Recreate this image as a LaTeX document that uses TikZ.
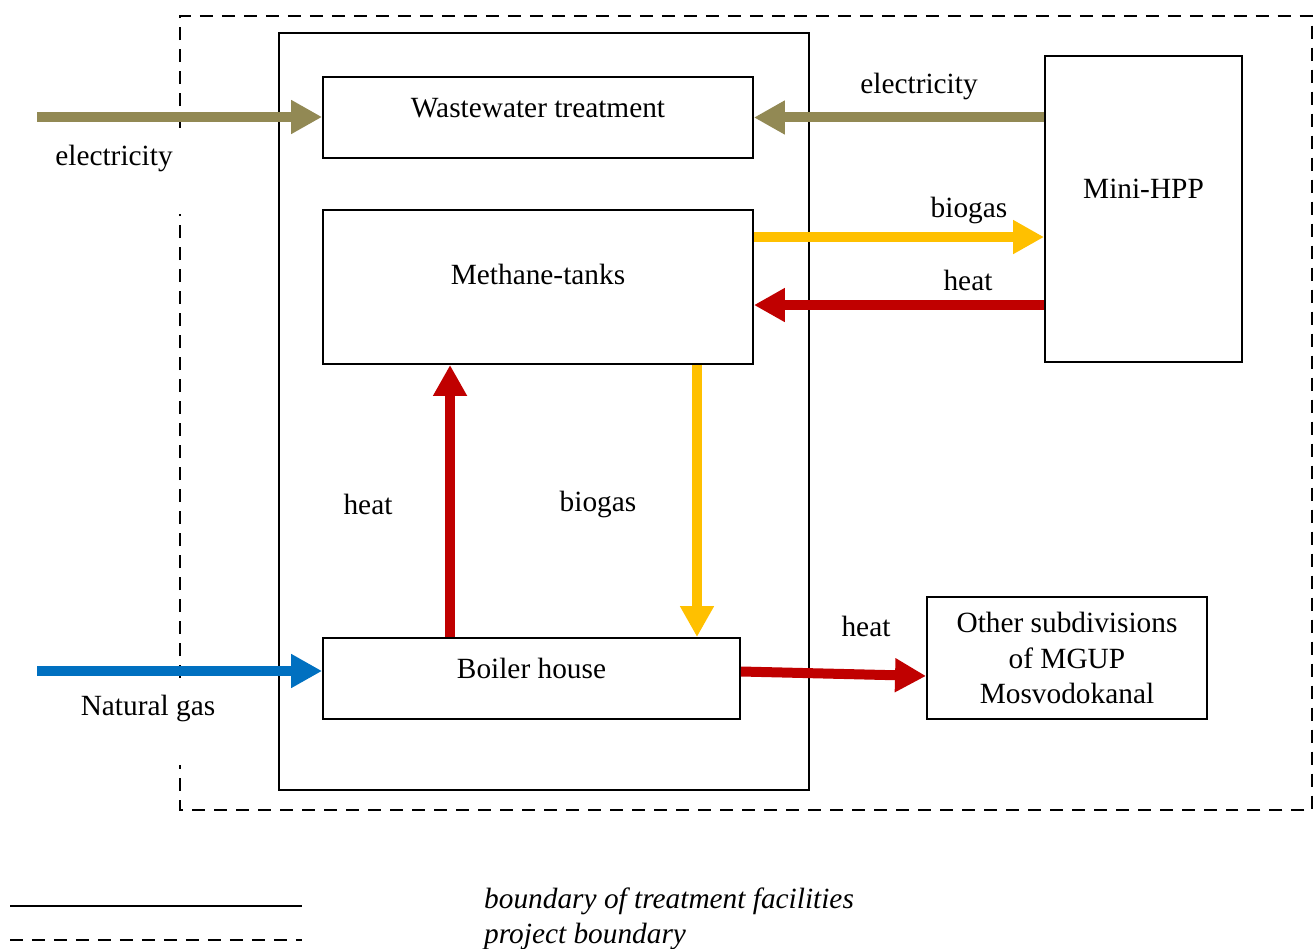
\documentclass[tikz,border=0pt]{standalone}
\usepackage{fontspec}
\setmainfont{Liberation Serif}
\usetikzlibrary{arrows.meta}

\definecolor{elec}{RGB}{146,137,84}
\definecolor{gas}{RGB}{255,192,0}
\definecolor{heatc}{RGB}{192,0,0}
\definecolor{natgas}{RGB}{0,112,192}

\begin{document}
\begin{tikzpicture}[x=0.02cm, y=-0.02cm,
  font=\fontsize{16.7}{20}\selectfont,
  box/.style={draw, line width=1.1pt, inner sep=0pt, align=center},
  flow/.style={line width=0.2cm, -{Triangle[length=0.62cm, width=0.64cm]}},
  bound/.style={line width=1.1pt, dash pattern=on 0.26cm off 0.18cm}
]
  \useasboundingbox (0,0) rectangle (1316,949);

  % 境界
  \draw[bound] (180,128) -- (180,16) -- (1312,16) -- (1312,810) -- (180,810) -- (180,765);
  \draw[bound] (180,678) -- (180,214);
  \draw[line width=1.1pt] (279,33) rectangle (809,790);

  % 設備
  \node[box, minimum width=8.6cm, minimum height=1.62cm, text depth=0.4cm] (WT) at (538,117.5) {Wastewater treatment};
  \node[box, minimum width=8.6cm, minimum height=3.08cm, text depth=0.52cm] (MT) at (538,287) {Methane-tanks};
  \node[box, minimum width=3.94cm, minimum height=6.12cm, text depth=0.8cm] (HPP) at (1143.5,209) {Mini-HPP};
  \node[box, minimum width=8.34cm, minimum height=1.62cm, text depth=0.4cm] (BH) at (531.5,678.5) {Boiler house};
  \node[box, minimum width=5.6cm, minimum height=2.44cm] (OS) at (1067,658) {Other subdivisions\\of MGUP\\Mosvodokanal};

  % 端点
  \coordinate (elin) at (37,117);
  \coordinate (ngin) at (37,671);
  \coordinate (bg1) at ([yshift=-0.56cm]MT.north east);
  \coordinate (ht1) at ([yshift=-1.92cm]MT.north east);
  \coordinate (ht2) at ([xshift=2.56cm]BH.north west);
  \coordinate (bg2) at ([xshift=7.5cm]MT.south west);

  % 流れ
  \draw[flow, elec] (elin) -- (elin -| WT.west);
  \draw[flow, elec] (HPP.west |- WT.east) -- (WT.east);
  \draw[flow, gas] (bg1) -- (bg1 -| HPP.west);
  \draw[flow, heatc] (ht1 -| HPP.west) -- (ht1);
  \draw[flow, heatc] (ht2) -- (ht2 |- MT.south);
  \draw[flow, gas] (bg2) -- (bg2 |- BH.north);
  \draw[flow, natgas] (ngin) -- (ngin -| BH.west);
  \draw[flow, heatc] ([yshift=0.14cm]BH.east) -- ([yshift=-0.36cm]OS.west);

  % ラベル
  \node (l1) at (114,158) {electricity};
  \node (l2) at (919,86) {electricity};
  \node (l3) at (969,210) {biogas};
  \node (l4) at (968,280) {heat};
  \node (l5) at (368,504) {heat};
  \node (l6) at (598,504) {biogas};
  \node (l7) at (866,626) {heat};
  \node (l8) at (148,708) {Natural gas};

  % 凡例
  \coordinate (s1) at (10,906);
  \coordinate (s2) at (302,906);
  \coordinate (d1) at (10,940);
  \coordinate (d2) at (302,940);
  \draw[line width=1.1pt] (s1) -- (s2);
  \draw[bound] (d1) -- (d2);
  \node[anchor=west, font=\fontsize{16.7}{20}\selectfont\itshape] (lg1) at (478,901) {boundary of treatment facilities};
  \node[anchor=west, font=\fontsize{16.7}{20}\selectfont\itshape] (lg2) at (478,936) {project boundary};
\end{tikzpicture}
\end{document}
